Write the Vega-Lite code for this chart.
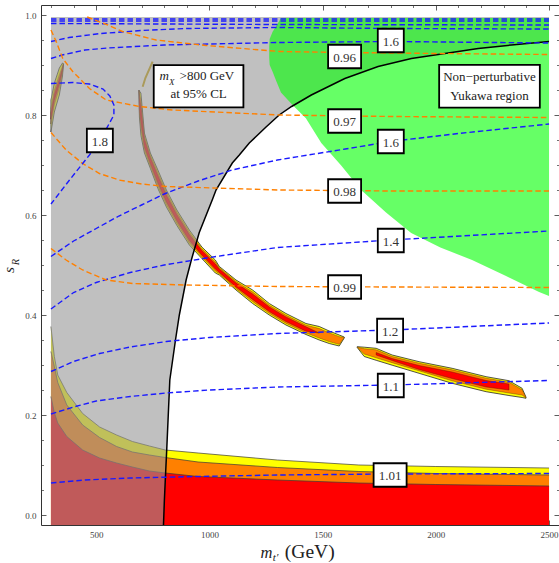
{
"$schema":"https://vega.github.io/schema/vega-lite/v6.json",
"width":518,"height":520,
"autosize":{"type":"none"},
"padding":{"left":41,"top":5,"right":0,"bottom":38},
"background":"white",
"config":{"view":{"stroke":"#333","strokeWidth":1},"font":"Liberation Serif"},
"datasets":{
"bands":[
{"m":300,"yel":0.377,"ora":0.327,"red":0.237},
{"m":315,"yel":0.317,"ora":0.297,"red":0.205},
{"m":330,"yel":0.28,"ora":0.265,"red":0.184},
{"m":370,"yel":0.245,"ora":0.22,"red":0.157},
{"m":440,"yel":0.203,"ora":0.18,"red":0.13},
{"m":515,"yel":0.176,"ora":0.155,"red":0.114},
{"m":590,"yel":0.16,"ora":0.137,"red":0.104},
{"m":660,"yel":0.147,"ora":0.126,"red":0.096},
{"m":735,"yel":0.138,"ora":0.12,"red":0.088},
{"m":805,"yel":0.13,"ora":0.115,"red":0.084},
{"m":950,"yel":0.124,"ora":0.106,"red":0.077},
{"m":1300,"yel":0.11,"ora":0.095,"red":0.07},
{"m":1660,"yel":0.1,"ora":0.087,"red":0.064},
{"m":2000,"yel":0.097,"ora":0.083,"red":0.061},
{"m":2500,"yel":0.094,"ora":0.08,"red":0.058}
],
"gray":[
{"m":300,"lo":-0.02},{"m":797,"lo":-0.02},{"m":801,"lo":0.03},{"m":805,"lo":0.07},{"m":812,"lo":0.137},{"m":825,"lo":0.27},{"m":850,"lo":0.35},{"m":867,"lo":0.4},{"m":897,"lo":0.47},{"m":920,"lo":0.51},{"m":955,"lo":0.565},{"m":1014,"lo":0.632},{"m":1029,"lo":0.65},{"m":1101,"lo":0.704},{"m":1132,"lo":0.72},{"m":1176,"lo":0.744},{"m":1250,"lo":0.776},{"m":1308,"lo":0.8},{"m":1363,"lo":0.817},{"m":1450,"lo":0.84},{"m":1598,"lo":0.873},{"m":1745,"lo":0.897},{"m":1892,"lo":0.913},{"m":2040,"lo":0.923},{"m":2187,"lo":0.933},{"m":2334,"lo":0.94},{"m":2500,"lo":0.947}
],
"green":[
{"m":1264,"lo":0.915,"hi":0.938},
{"m":1266,"lo":0.9,"hi":0.952},
{"m":1279,"lo":0.8866,"hi":0.9666},
{"m":1295,"lo":0.868,"hi":0.978},
{"m":1316,"lo":0.845,"hi":0.994},
{"m":1367,"lo":0.82,"hi":0.994},
{"m":1426,"lo":0.7934,"hi":0.994},
{"m":1494,"lo":0.744,"hi":0.994},
{"m":1580,"lo":0.7,"hi":0.994},
{"m":1670,"lo":0.65,"hi":0.994},
{"m":1780,"lo":0.605,"hi":0.994},
{"m":1891,"lo":0.564,"hi":0.994},
{"m":2020,"lo":0.535,"hi":0.994},
{"m":2160,"lo":0.51,"hi":0.994},
{"m":2310,"lo":0.478,"hi":0.994},
{"m":2456,"lo":0.446,"hi":0.994},
{"m":2500,"lo":0.438,"hi":0.994}
],
"strips":[
{"g":"L","m":300,"yh":0.83,"yl":0.766,"oh":0.814,"ol":0.782,"rh":0.8044,"rl":0.7916},
{"g":"L","m":315,"yh":0.864,"yl":0.806,"oh":0.8495,"ol":0.8205,"rh":0.8408,"rl":0.8292},
{"g":"L","m":337,"yh":0.894,"yl":0.84,"oh":0.8805,"ol":0.8535,"rh":0.8724,"rl":0.8616},
{"g":"L","m":351,"yh":0.904,"yl":0.878,"oh":0.8975,"ol":0.8845,"rh":0.8936,"rl":0.8884},
{"g":"L","m":355,"yh":0.903,"yl":0.9,"oh":0.9015,"ol":0.9015,"rh":0.9015,"rl":0.9015},
{"g":"S1","m":688.5,"yh":0.85,"yl":0.849,"oh":0.8497,"ol":0.8493,"rh":0.8495,"rl":0.8495},
{"g":"S1","m":690.7,"yh":0.848,"yl":0.796,"oh":0.8402,"ol":0.8038,"rh":0.8324,"rl":0.8116},
{"g":"S1","m":697.3,"yh":0.844,"yl":0.759,"oh":0.8312,"ol":0.7718,"rh":0.8185,"rl":0.7845},
{"g":"S1","m":712.8,"yh":0.764,"yl":0.724,"oh":0.758,"ol":0.73,"rh":0.752,"rl":0.736},
{"g":"S1","m":739.2,"yh":0.724,"yl":0.693,"oh":0.7193,"ol":0.6977,"rh":0.7147,"rl":0.7023},
{"g":"S1","m":772.3,"yh":0.69,"yl":0.653,"oh":0.6844,"ol":0.6586,"rh":0.6789,"rl":0.6641},
{"g":"S1","m":809.8,"yh":0.65,"yl":0.616,"oh":0.6449,"ol":0.6211,"rh":0.6398,"rl":0.6262},
{"g":"S1","m":856.2,"yh":0.61,"yl":0.579,"oh":0.6053,"ol":0.5837,"rh":0.6007,"rl":0.5883},
{"g":"S1","m":911.3,"yh":0.57,"yl":0.54,"oh":0.5655,"ol":0.5445,"rh":0.561,"rl":0.549},
{"g":"S1","m":966.5,"yh":0.536,"yl":0.513,"oh":0.5325,"ol":0.5165,"rh":0.5291,"rl":0.5199},
{"g":"S1","m":1026,"yh":0.51,"yl":0.484,"oh":0.5061,"ol":0.4879,"rh":0.5022,"rl":0.4918},
{"g":"S1","m":1043.7,"yh":0.497,"yl":0.48,"oh":0.4944,"ol":0.4826,"rh":0.4919,"rl":0.4851},
{"g":"S1","m":1117.4,"yh":0.47,"yl":0.45,"oh":0.467,"ol":0.453,"rh":0.464,"rl":0.456},
{"g":"S1","m":1190.7,"yh":0.45,"yl":0.423,"oh":0.446,"ol":0.427,"rh":0.4419,"rl":0.4311},
{"g":"S1","m":1264.3,"yh":0.423,"yl":0.4,"oh":0.4195,"ol":0.4035,"rh":0.4161,"rl":0.4069},
{"g":"S1","m":1338,"yh":0.403,"yl":0.38,"oh":0.3995,"ol":0.3835,"rh":0.3961,"rl":0.3869},
{"g":"S1","m":1426.3,"yh":0.383,"yl":0.361,"oh":0.3797,"ol":0.3643,"rh":0.3764,"rl":0.3676},
{"g":"S1","m":1485,"yh":0.377,"yl":0.35,"oh":0.373,"ol":0.354,"rh":0.364,"rl":0.364},
{"g":"S1","m":1529,"yh":0.368,"yl":0.343,"oh":0.3642,"ol":0.3468,"rh":null,"rl":null},
{"g":"S1","m":1573.3,"yh":0.36,"yl":0.338,"oh":0.3567,"ol":0.3413,"rh":null,"rl":null},
{"g":"S1","m":1595.4,"yh":0.356,"yl":0.354,"oh":0.355,"ol":0.355,"rh":null,"rl":null},
{"g":"S2","m":1652.7,"yh":0.3366,"yl":0.335,"oh":0.3358,"ol":0.3358,"rh":null,"rl":null},
{"g":"S2","m":1683.6,"yh":0.3356,"yl":0.317,"oh":0.3326,"ol":0.322,"rh":null,"rl":null},
{"g":"S2","m":1736.5,"yh":0.3334,"yl":0.3094,"oh":0.3304,"ol":0.3144,"rh":0.325,"rl":0.32},
{"g":"S2","m":1807,"yh":0.32,"yl":0.2996,"oh":0.317,"ol":0.3046,"rh":0.313,"rl":0.309},
{"g":"S2","m":1926,"yh":0.3066,"yl":0.2834,"oh":0.3036,"ol":0.2884,"rh":0.299,"rl":0.291},
{"g":"S2","m":2072,"yh":0.2934,"yl":0.2634,"oh":0.2904,"ol":0.2684,"rh":0.286,"rl":0.273},
{"g":"S2","m":2222,"yh":0.2766,"yl":0.2466,"oh":0.2736,"ol":0.2516,"rh":0.269,"rl":0.256},
{"g":"S2","m":2323,"yh":0.2686,"yl":0.239,"oh":0.2656,"ol":0.244,"rh":0.262,"rl":0.25},
{"g":"S2","m":2381,"yh":0.2534,"yl":0.235,"oh":0.2504,"ol":0.24,"rh":null,"rl":null},
{"g":"S2","m":2398,"yh":0.236,"yl":0.2334,"oh":0.235,"ol":0.2345,"rh":null,"rl":null}
],
"sliver":[{"m":749,"s":0.9066},{"m":717,"s":0.874},{"m":705,"s":0.8566}],
"contours":[
{"c":"T1","k":"b","m":300,"s":0.992},{"c":"T1","k":"b","m":2500,"s":0.992},
{"c":"T2","k":"b","m":300,"s":0.988},{"c":"T2","k":"b","m":2500,"s":0.988},
{"c":"T3","k":"b","m":300,"s":0.983},{"c":"T3","k":"b","m":1300,"s":0.981},{"c":"T3","k":"b","m":2500,"s":0.98},
{"c":"Ba","k":"b","m":300,"s":0.947},{"c":"Ba","k":"b","m":380,"s":0.955},{"c":"Ba","k":"b","m":520,"s":0.963},{"c":"Ba","k":"b","m":700,"s":0.969},{"c":"Ba","k":"b","m":900,"s":0.973},{"c":"Ba","k":"b","m":1300,"s":0.975},{"c":"Ba","k":"b","m":1800,"s":0.973},{"c":"Ba","k":"b","m":2500,"s":0.972},
{"c":"Bb","k":"b","m":300,"s":0.913},{"c":"Bb","k":"b","m":350,"s":0.92},{"c":"Bb","k":"b","m":450,"s":0.93},{"c":"Bb","k":"b","m":550,"s":0.934},{"c":"Bb","k":"b","m":800,"s":0.94},{"c":"Bb","k":"b","m":1300,"s":0.945},{"c":"Bb","k":"b","m":1800,"s":0.947},{"c":"Bb","k":"b","m":2500,"s":0.944},
{"c":"B16","k":"b","m":300,"s":0.517},{"c":"B16","k":"b","m":400,"s":0.548},{"c":"B16","k":"b","m":500,"s":0.573},{"c":"B16","k":"b","m":600,"s":0.598},{"c":"B16","k":"b","m":700,"s":0.62},{"c":"B16","k":"b","m":800,"s":0.642},{"c":"B16","k":"b","m":950,"s":0.668},{"c":"B16","k":"b","m":1100,"s":0.69},{"c":"B16","k":"b","m":1300,"s":0.71},{"c":"B16","k":"b","m":1600,"s":0.732},{"c":"B16","k":"b","m":1800,"s":0.747},{"c":"B16","k":"b","m":2100,"s":0.763},{"c":"B16","k":"b","m":2500,"s":0.782},
{"c":"B14","k":"b","m":300,"s":0.412},{"c":"B14","k":"b","m":400,"s":0.445},{"c":"B14","k":"b","m":500,"s":0.465},{"c":"B14","k":"b","m":650,"s":0.485},{"c":"B14","k":"b","m":800,"s":0.5},{"c":"B14","k":"b","m":1000,"s":0.515},{"c":"B14","k":"b","m":1300,"s":0.535},{"c":"B14","k":"b","m":1800,"s":0.55},{"c":"B14","k":"b","m":2500,"s":0.568},
{"c":"B12","k":"b","m":300,"s":0.287},{"c":"B12","k":"b","m":400,"s":0.307},{"c":"B12","k":"b","m":515,"s":0.323},{"c":"B12","k":"b","m":650,"s":0.336},{"c":"B12","k":"b","m":810,"s":0.347},{"c":"B12","k":"b","m":1000,"s":0.355},{"c":"B12","k":"b","m":1300,"s":0.363},{"c":"B12","k":"b","m":1800,"s":0.37},{"c":"B12","k":"b","m":2500,"s":0.384},
{"c":"B11","k":"b","m":300,"s":0.202},{"c":"B11","k":"b","m":400,"s":0.216},{"c":"B11","k":"b","m":500,"s":0.228},{"c":"B11","k":"b","m":650,"s":0.237},{"c":"B11","k":"b","m":810,"s":0.244},{"c":"B11","k":"b","m":1000,"s":0.25},{"c":"B11","k":"b","m":1300,"s":0.256},{"c":"B11","k":"b","m":1800,"s":0.26},{"c":"B11","k":"b","m":2500,"s":0.269},
{"c":"B101","k":"b","m":300,"s":0.064},{"c":"B101","k":"b","m":450,"s":0.07},{"c":"B101","k":"b","m":650,"s":0.074},{"c":"B101","k":"b","m":950,"s":0.077},{"c":"B101","k":"b","m":1300,"s":0.08},{"c":"B101","k":"b","m":1800,"s":0.082},{"c":"B101","k":"b","m":2500,"s":0.083},
{"c":"O96","k":"o","m":460,"s":0.996},{"c":"O96","k":"o","m":477,"s":0.993},{"c":"O96","k":"o","m":540,"s":0.982},{"c":"O96","k":"o","m":616,"s":0.967},{"c":"O96","k":"o","m":764,"s":0.95},{"c":"O96","k":"o","m":985,"s":0.939},{"c":"O96","k":"o","m":1308,"s":0.927},{"c":"O96","k":"o","m":1600,"s":0.925},{"c":"O96","k":"o","m":2000,"s":0.923},{"c":"O96","k":"o","m":2500,"s":0.921},
{"c":"O97","k":"o","m":300,"s":0.97},{"c":"O97","k":"o","m":323,"s":0.947},{"c":"O97","k":"o","m":352,"s":0.913},{"c":"O97","k":"o","m":396,"s":0.887},{"c":"O97","k":"o","m":470,"s":0.853},{"c":"O97","k":"o","m":544,"s":0.83},{"c":"O97","k":"o","m":691,"s":0.817},{"c":"O97","k":"o","m":836,"s":0.81},{"c":"O97","k":"o","m":1308,"s":0.8},{"c":"O97","k":"o","m":1800,"s":0.797},{"c":"O97","k":"o","m":2500,"s":0.795},
{"c":"O98","k":"o","m":300,"s":0.765},{"c":"O98","k":"o","m":367,"s":0.73},{"c":"O98","k":"o","m":440,"s":0.703},{"c":"O98","k":"o","m":514,"s":0.683},{"c":"O98","k":"o","m":600,"s":0.67},{"c":"O98","k":"o","m":700,"s":0.662},{"c":"O98","k":"o","m":808,"s":0.657},{"c":"O98","k":"o","m":1308,"s":0.65},{"c":"O98","k":"o","m":1800,"s":0.648},{"c":"O98","k":"o","m":2500,"s":0.648},
{"c":"O99","k":"o","m":300,"s":0.533},{"c":"O99","k":"o","m":367,"s":0.51},{"c":"O99","k":"o","m":440,"s":0.49},{"c":"O99","k":"o","m":544,"s":0.47},{"c":"O99","k":"o","m":661,"s":0.463},{"c":"O99","k":"o","m":897,"s":0.46},{"c":"O99","k":"o","m":1308,"s":0.457},{"c":"O99","k":"o","m":1800,"s":0.456},{"c":"O99","k":"o","m":2500,"s":0.455}
],
"loop":[
{"o":1,"m":300,"s":0.863},{"o":2,"m":396,"s":0.865},{"o":3,"m":470,"s":0.862},{"o":4,"m":530,"s":0.852},{"o":5,"m":560,"s":0.838},{"o":6,"m":578,"s":0.82},{"o":7,"m":578,"s":0.8},{"o":8,"m":560,"s":0.785},{"o":9,"m":516,"s":0.749},{"o":10,"m":470,"s":0.72},{"o":11,"m":382,"s":0.67},{"o":12,"m":300,"s":0.622}
],
"labels":[
{"t":"1.8","m":516,"s":0.749},{"t":"0.96","m":1597,"s":0.917},{"t":"1.6","m":1801,"s":0.949},{"t":"0.97","m":1597,"s":0.788},{"t":"1.6","m":1801,"s":0.747},{"t":"0.98","m":1597,"s":0.648},{"t":"1.4","m":1801,"s":0.549},{"t":"0.99","m":1597,"s":0.456},{"t":"1.2","m":1798,"s":0.369},{"t":"1.1","m":1801,"s":0.259},{"t":"1.01","m":1798,"s":0.08}
]
},
"layer":[
{"layer":[
{"data":{"name":"bands"},"mark":{"type":"area","color":"#ffff00"},"encoding":{
"x":{"field":"m","type":"quantitative","scale":{"domain":[256,2544],"nice":false,"zero":false},"axis":null},
"y":{"field":"yel","type":"quantitative","scale":{"domain":[-0.02,1.02],"nice":false,"zero":false},"axis":null},
"y2":{"datum":-0.02}}},
{"data":{"name":"bands"},"mark":{"type":"area","color":"#ff8000"},"encoding":{
"x":{"field":"m","type":"quantitative","scale":{"domain":[256,2544],"nice":false,"zero":false},"axis":null},
"y":{"field":"ora","type":"quantitative","scale":{"domain":[-0.02,1.02],"nice":false,"zero":false},"axis":null},
"y2":{"datum":-0.02}}},
{"data":{"name":"bands"},"mark":{"type":"area","color":"#ff0000"},"encoding":{
"x":{"field":"m","type":"quantitative","scale":{"domain":[256,2544],"nice":false,"zero":false},"axis":null},
"y":{"field":"red","type":"quantitative","scale":{"domain":[-0.02,1.02],"nice":false,"zero":false},"axis":null},
"y2":{"datum":-0.02}}},
{"data":{"name":"bands"},"mark":{"type":"line","color":"#3a3a3a","strokeWidth":0.7},"encoding":{
"x":{"field":"m","type":"quantitative","scale":{"domain":[256,2544],"nice":false,"zero":false},"axis":null},
"y":{"field":"yel","type":"quantitative","scale":{"domain":[-0.02,1.02],"nice":false,"zero":false},"axis":null}}},
{"data":{"name":"bands"},"mark":{"type":"line","color":"#3a3a3a","strokeWidth":0.7},"encoding":{
"x":{"field":"m","type":"quantitative","scale":{"domain":[256,2544],"nice":false,"zero":false},"axis":null},
"y":{"field":"ora","type":"quantitative","scale":{"domain":[-0.02,1.02],"nice":false,"zero":false},"axis":null}}},
{"data":{"name":"bands"},"mark":{"type":"line","color":"#3a3a3a","strokeWidth":0.7},"encoding":{
"x":{"field":"m","type":"quantitative","scale":{"domain":[256,2544],"nice":false,"zero":false},"axis":null},
"y":{"field":"red","type":"quantitative","scale":{"domain":[-0.02,1.02],"nice":false,"zero":false},"axis":null}}},
{"data":{"name":"strips"},"mark":{"type":"area","fill":"#ffff00","stroke":"#2a2a2a","strokeWidth":0.8},"encoding":{
"x":{"field":"m","type":"quantitative","scale":{"domain":[256,2544],"nice":false,"zero":false},"axis":null},
"y":{"field":"yl","type":"quantitative","scale":{"domain":[-0.02,1.02],"nice":false,"zero":false},"axis":null},
"y2":{"field":"yh"},"detail":{"field":"g"}}},
{"data":{"name":"strips"},"mark":{"type":"area","fill":"#ff8000","stroke":"#553300","strokeWidth":0.4},"encoding":{
"x":{"field":"m","type":"quantitative","scale":{"domain":[256,2544],"nice":false,"zero":false},"axis":null},
"y":{"field":"ol","type":"quantitative","scale":{"domain":[-0.02,1.02],"nice":false,"zero":false},"axis":null},
"y2":{"field":"oh"},"detail":{"field":"g"}}},
{"data":{"name":"strips"},"mark":{"type":"area","fill":"#ff0000","stroke":"#551100","strokeWidth":0.4},"encoding":{
"x":{"field":"m","type":"quantitative","scale":{"domain":[256,2544],"nice":false,"zero":false},"axis":null},
"y":{"field":"rl","type":"quantitative","scale":{"domain":[-0.02,1.02],"nice":false,"zero":false},"axis":null},
"y2":{"field":"rh"},"detail":{"field":"g"}}},
{"data":{"name":"sliver"},"mark":{"type":"line","color":"#c8a000","strokeWidth":2},"encoding":{
"x":{"field":"m","type":"quantitative","scale":{"domain":[256,2544],"nice":false,"zero":false},"axis":null},
"y":{"field":"s","type":"quantitative","scale":{"domain":[-0.02,1.02],"nice":false,"zero":false},"axis":null}}},
{"data":{"name":"gray"},"mark":{"type":"area","color":"#969696","opacity":0.6},"encoding":{
"x":{"field":"m","type":"quantitative","scale":{"domain":[256,2544],"nice":false,"zero":false},"axis":null},
"y":{"field":"lo","type":"quantitative","scale":{"domain":[-0.02,1.02],"nice":false,"zero":false},"axis":null},
"y2":{"datum":0.996}}},
{"data":{"name":"green"},"mark":{"type":"area","color":"#00ff00","opacity":0.6},"encoding":{
"x":{"field":"m","type":"quantitative","scale":{"domain":[256,2544],"nice":false,"zero":false},"axis":null},
"y":{"field":"lo","type":"quantitative","scale":{"domain":[-0.02,1.02],"nice":false,"zero":false},"axis":null},
"y2":{"field":"hi"}}},
{"data":{"name":"gray"},"transform":[{"filter":"datum.m >= 797"}],"mark":{"type":"line","color":"#000","strokeWidth":1.5},"encoding":{
"x":{"field":"m","type":"quantitative","scale":{"domain":[256,2544],"nice":false,"zero":false},"axis":null},
"y":{"field":"lo","type":"quantitative","scale":{"domain":[-0.02,1.02],"nice":false,"zero":false},"axis":null}}},
{"data":{"name":"contours"},"mark":{"type":"line","strokeWidth":1.4,"strokeDash":[5.5,3]},"encoding":{
"x":{"field":"m","type":"quantitative","scale":{"domain":[256,2544],"nice":false,"zero":false},"axis":null},
"y":{"field":"s","type":"quantitative","scale":{"domain":[-0.02,1.02],"nice":false,"zero":false},"axis":null},
"color":{"field":"k","type":"nominal","scale":{"domain":["b","o"],"range":["#1a1aff","#ff8000"]},"legend":null},
"detail":{"field":"c"}}},
{"data":{"name":"loop"},"mark":{"type":"line","strokeWidth":1.4,"strokeDash":[5.5,3],"color":"#1a1aff"},"encoding":{
"x":{"field":"m","type":"quantitative","scale":{"domain":[256,2544],"nice":false,"zero":false},"axis":null},
"y":{"field":"s","type":"quantitative","scale":{"domain":[-0.02,1.02],"nice":false,"zero":false},"axis":null},
"order":{"field":"o"}}},
{"data":{"name":"labels"},"transform":[{"filter":"length(datum.t) <= 3"}],"mark":{"type":"point","shape":"M-1.106,-1L1.106,-1L1.106,1L-1.106,1Z","size":552,"filled":true,"fill":"white","stroke":"#000","strokeWidth":1.8,"opacity":1},"encoding":{
"x":{"field":"m","type":"quantitative","scale":{"domain":[256,2544],"nice":false,"zero":false},"axis":null},
"y":{"field":"s","type":"quantitative","scale":{"domain":[-0.02,1.02],"nice":false,"zero":false},"axis":null}}},
{"data":{"name":"labels"},"transform":[{"filter":"length(datum.t) > 3"}],"mark":{"type":"point","shape":"M-1.404,-1L1.404,-1L1.404,1L-1.404,1Z","size":552,"filled":true,"fill":"white","stroke":"#000","strokeWidth":1.8,"opacity":1},"encoding":{
"x":{"field":"m","type":"quantitative","scale":{"domain":[256,2544],"nice":false,"zero":false},"axis":null},
"y":{"field":"s","type":"quantitative","scale":{"domain":[-0.02,1.02],"nice":false,"zero":false},"axis":null}}},
{"data":{"name":"labels"},"mark":{"type":"text","font":"Liberation Serif","fontSize":13,"fill":"#333","baseline":"middle","dy":1},"encoding":{
"x":{"field":"m","type":"quantitative","scale":{"domain":[256,2544],"nice":false,"zero":false},"axis":null},
"y":{"field":"s","type":"quantitative","scale":{"domain":[-0.02,1.02],"nice":false,"zero":false},"axis":null},
"text":{"field":"t"}}},
{"data":{"values":[{}]},"mark":{"type":"point","shape":"M-2.12,-1L2.12,-1L2.12,1L-2.12,1Z","size":1789,"filled":true,"fill":"white","stroke":"#000","strokeWidth":1.8,"opacity":1},"encoding":{
"x":{"datum":952,"type":"quantitative","scale":{"domain":[256,2544],"nice":false,"zero":false},"axis":null},
"y":{"datum":0.8576,"type":"quantitative","scale":{"domain":[-0.02,1.02],"nice":false,"zero":false},"axis":null}}},
{"data":{"values":[{}]},"mark":{"type":"point","shape":"M-2.358,-1L2.358,-1L2.358,1L-2.358,1Z","size":1823,"filled":true,"fill":"white","stroke":"#000","strokeWidth":1.8,"opacity":1},"encoding":{
"x":{"datum":2237,"type":"quantitative","scale":{"domain":[256,2544],"nice":false,"zero":false},"axis":null},
"y":{"datum":0.8574,"type":"quantitative","scale":{"domain":[-0.02,1.02],"nice":false,"zero":false},"axis":null}}},
{"data":{"values":[{}]},"mark":{"type":"text","text":"m","font":"Liberation Serif","fontStyle":"italic","fontSize":13,"align":"left","baseline":"alphabetic","dx":-39,"dy":-6,"fill":"#222"},"encoding":{
"x":{"datum":952,"type":"quantitative","scale":{"domain":[256,2544],"nice":false,"zero":false},"axis":null},
"y":{"datum":0.8576,"type":"quantitative","scale":{"domain":[-0.02,1.02],"nice":false,"zero":false},"axis":null}}},
{"data":{"values":[{}]},"mark":{"type":"text","text":"X","font":"Liberation Serif","fontStyle":"italic","fontSize":9,"align":"left","baseline":"alphabetic","dx":-29.5,"dy":-1,"fill":"#222"},"encoding":{
"x":{"datum":952,"type":"quantitative","scale":{"domain":[256,2544],"nice":false,"zero":false},"axis":null},
"y":{"datum":0.8576,"type":"quantitative","scale":{"domain":[-0.02,1.02],"nice":false,"zero":false},"axis":null}}},
{"data":{"values":[{}]},"mark":{"type":"text","text":">800  GeV","font":"Liberation Serif","fontSize":13,"align":"left","baseline":"alphabetic","dx":-19,"dy":-6,"fill":"#222"},"encoding":{
"x":{"datum":952,"type":"quantitative","scale":{"domain":[256,2544],"nice":false,"zero":false},"axis":null},
"y":{"datum":0.8576,"type":"quantitative","scale":{"domain":[-0.02,1.02],"nice":false,"zero":false},"axis":null}}},
{"data":{"values":[{}]},"mark":{"type":"text","text":"at  95%  CL","font":"Liberation Serif","fontSize":13,"align":"center","baseline":"alphabetic","dy":12,"fill":"#222"},"encoding":{
"x":{"datum":952,"type":"quantitative","scale":{"domain":[256,2544],"nice":false,"zero":false},"axis":null},
"y":{"datum":0.8576,"type":"quantitative","scale":{"domain":[-0.02,1.02],"nice":false,"zero":false},"axis":null}}},
{"data":{"values":[{}]},"mark":{"type":"text","text":"Non−perturbative","font":"Liberation Serif","fontSize":13,"align":"center","baseline":"alphabetic","dy":-5,"fill":"#222"},"encoding":{
"x":{"datum":2237,"type":"quantitative","scale":{"domain":[256,2544],"nice":false,"zero":false},"axis":null},
"y":{"datum":0.8574,"type":"quantitative","scale":{"domain":[-0.02,1.02],"nice":false,"zero":false},"axis":null}}},
{"data":{"values":[{}]},"mark":{"type":"text","text":"Yukawa  region","font":"Liberation Serif","fontSize":13,"align":"center","baseline":"alphabetic","dy":14,"fill":"#222"},"encoding":{
"x":{"datum":2237,"type":"quantitative","scale":{"domain":[256,2544],"nice":false,"zero":false},"axis":null},
"y":{"datum":0.8574,"type":"quantitative","scale":{"domain":[-0.02,1.02],"nice":false,"zero":false},"axis":null}}},
{"data":{"values":[{}]},"mark":{"type":"text","text":"m","font":"Liberation Serif","fontStyle":"italic","fontSize":16.5,"align":"left","baseline":"alphabetic","fill":"#222"},"encoding":{
"x":{"datum":1226,"type":"quantitative","scale":{"domain":[256,2544],"nice":false,"zero":false},"axis":null},
"y":{"datum":-0.086,"type":"quantitative","scale":{"domain":[-0.02,1.02],"nice":false,"zero":false},"axis":null}}},
{"data":{"values":[{}]},"mark":{"type":"text","text":"t′","font":"Liberation Serif","fontStyle":"italic","fontSize":11,"align":"left","baseline":"alphabetic","fill":"#222"},"encoding":{
"x":{"datum":1280,"type":"quantitative","scale":{"domain":[256,2544],"nice":false,"zero":false},"axis":null},
"y":{"datum":-0.092,"type":"quantitative","scale":{"domain":[-0.02,1.02],"nice":false,"zero":false},"axis":null}}},
{"data":{"values":[{}]},"mark":{"type":"text","text":"(GeV)","font":"Liberation Serif","fontSize":19.5,"align":"left","baseline":"alphabetic","fill":"#222"},"encoding":{
"x":{"datum":1333,"type":"quantitative","scale":{"domain":[256,2544],"nice":false,"zero":false},"axis":null},
"y":{"datum":-0.086,"type":"quantitative","scale":{"domain":[-0.02,1.02],"nice":false,"zero":false},"axis":null}}},
{"data":{"values":[{}]},"mark":{"type":"text","text":"s","font":"Liberation Serif","fontStyle":"italic","fontSize":15.5,"angle":270,"align":"center","baseline":"alphabetic","fill":"#222"},"encoding":{
"x":{"datum":135,"type":"quantitative","scale":{"domain":[256,2544],"nice":false,"zero":false},"axis":null},
"y":{"datum":0.49,"type":"quantitative","scale":{"domain":[-0.02,1.02],"nice":false,"zero":false},"axis":null}}},
{"data":{"values":[{}]},"mark":{"type":"text","text":"R","font":"Liberation Serif","fontStyle":"italic","fontSize":10.5,"angle":270,"align":"center","baseline":"alphabetic","fill":"#222"},"encoding":{
"x":{"datum":157,"type":"quantitative","scale":{"domain":[256,2544],"nice":false,"zero":false},"axis":null},
"y":{"datum":0.506,"type":"quantitative","scale":{"domain":[-0.02,1.02],"nice":false,"zero":false},"axis":null}}}
]},
{"data":{"values":[{"m":1000,"s":0.5}]},"mark":{"type":"point","opacity":0},"encoding":{
"x":{"field":"m","type":"quantitative","scale":{"domain":[256,2544],"nice":false,"zero":false},"axis":{"orient":"bottom","values":[500,1000,1500,2000,2500],"format":"d","ticks":false,"domain":false,"grid":false,"title":null,"labels":true,"labelFont":"Liberation Serif","labelFontSize":9,"labelColor":"#444","labelPadding":5}},
"y":{"field":"s","type":"quantitative","scale":{"domain":[-0.02,1.02],"nice":false,"zero":false},"axis":{"orient":"left","values":[0,0.2,0.4,0.6,0.8,1],"format":".1f","ticks":false,"domain":false,"grid":false,"title":null,"labels":true,"labelFont":"Liberation Serif","labelFontSize":9,"labelColor":"#444","labelPadding":5}}}},
{"data":{"values":[{"m":1000,"s":0.5}]},"mark":{"type":"point","opacity":0},"encoding":{
"x":{"field":"m","type":"quantitative","scale":{"domain":[256,2544],"nice":false,"zero":false},"axis":{"orient":"bottom","values":[500,1000,1500,2000,2500],"labels":false,"domain":false,"grid":false,"ticks":true,"tickSize":-5,"tickColor":"#333","tickWidth":0.8,"title":null}},
"y":{"field":"s","type":"quantitative","scale":{"domain":[-0.02,1.02],"nice":false,"zero":false},"axis":{"orient":"left","values":[0,0.2,0.4,0.6,0.8,1],"labels":false,"domain":false,"grid":false,"ticks":true,"tickSize":-5,"tickColor":"#333","tickWidth":0.8,"title":null}}}},
{"data":{"values":[{"m":1000,"s":0.5}]},"mark":{"type":"point","opacity":0},"encoding":{
"x":{"field":"m","type":"quantitative","scale":{"domain":[256,2544],"nice":false,"zero":false},"axis":{"orient":"bottom","values":[300,400,600,700,800,900,1100,1200,1300,1400,1600,1700,1800,1900,2100,2200,2300,2400],"labels":false,"domain":false,"grid":false,"ticks":true,"tickSize":-2.5,"tickColor":"#333","tickWidth":0.7,"title":null}},
"y":{"field":"s","type":"quantitative","scale":{"domain":[-0.02,1.02],"nice":false,"zero":false},"axis":{"orient":"left","values":[0.05,0.1,0.15,0.25,0.3,0.35,0.45,0.5,0.55,0.65,0.7,0.75,0.85,0.9,0.95],"labels":false,"domain":false,"grid":false,"ticks":true,"tickSize":-2.5,"tickColor":"#333","tickWidth":0.7,"title":null}}}},
{"data":{"values":[{"m":1000,"s":0.5}]},"mark":{"type":"point","opacity":0},"encoding":{
"x":{"field":"m","type":"quantitative","scale":{"domain":[256,2544],"nice":false,"zero":false},"axis":{"orient":"top","values":[500,1000,1500,2000,2500],"labels":false,"domain":false,"grid":false,"ticks":true,"tickSize":-5,"tickColor":"#333","tickWidth":0.8,"title":null}},
"y":{"field":"s","type":"quantitative","scale":{"domain":[-0.02,1.02],"nice":false,"zero":false},"axis":{"orient":"right","values":[0,0.2,0.4,0.6,0.8,1],"labels":false,"domain":false,"grid":false,"ticks":true,"tickSize":-5,"tickColor":"#333","tickWidth":0.8,"title":null}}}},
{"data":{"values":[{"m":1000,"s":0.5}]},"mark":{"type":"point","opacity":0},"encoding":{
"x":{"field":"m","type":"quantitative","scale":{"domain":[256,2544],"nice":false,"zero":false},"axis":{"orient":"top","values":[300,400,600,700,800,900,1100,1200,1300,1400,1600,1700,1800,1900,2100,2200,2300,2400],"labels":false,"domain":false,"grid":false,"ticks":true,"tickSize":-2.5,"tickColor":"#333","tickWidth":0.7,"title":null}},
"y":{"field":"s","type":"quantitative","scale":{"domain":[-0.02,1.02],"nice":false,"zero":false},"axis":{"orient":"right","values":[0.05,0.1,0.15,0.25,0.3,0.35,0.45,0.5,0.55,0.65,0.7,0.75,0.85,0.9,0.95],"labels":false,"domain":false,"grid":false,"ticks":true,"tickSize":-2.5,"tickColor":"#333","tickWidth":0.7,"title":null}}}}
],
"resolve":{"axis":{"x":"independent","y":"independent"}}
}
